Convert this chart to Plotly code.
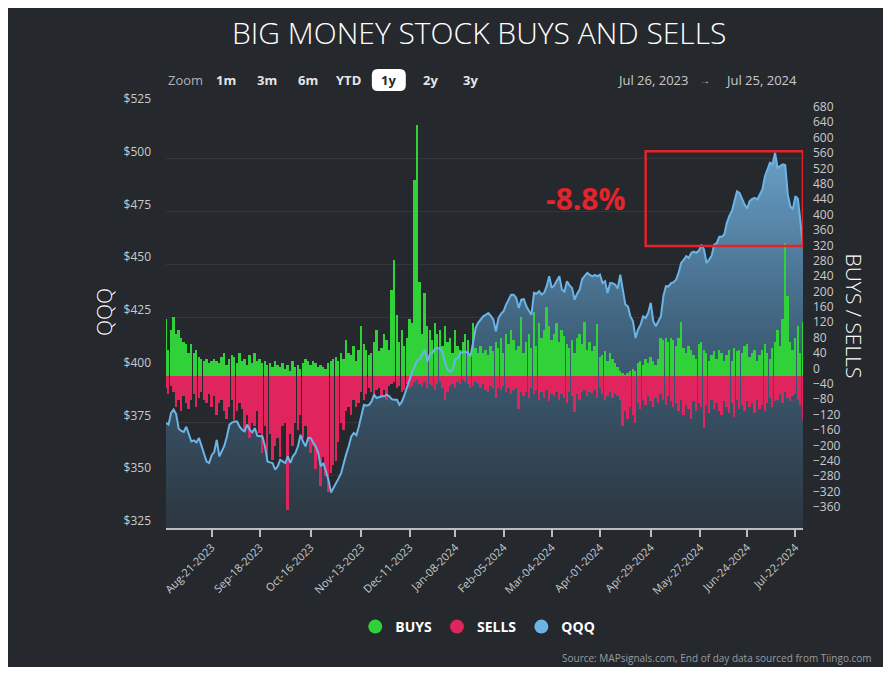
import plotly.graph_objects as go
import pandas as pd

# ---------------- data ----------------
START = "2023-07-26"
END = "2024-07-25"
HOLIDAYS = ["2023-09-04", "2023-11-23", "2023-12-25", "2024-01-01", "2024-01-15",
            "2024-02-19", "2024-03-29", "2024-05-27", "2024-06-19", "2024-07-04"]
DATES = [d for d in pd.bdate_range(START, END) if d.strftime("%Y-%m-%d") not in HOLIDAYS]

QQQ = [
    374.8, 374.0, 379.5, 381.1, 379.0, 372.0, 371.0, 370.5, 373.0, 369.5,
    366.0, 366.5, 365.5, 367.6, 363.7, 359.5, 356.5, 355.8, 359.5, 361.0,
    366.8, 358.9, 361.3, 364.0, 368.4, 374.0, 375.0, 375.5, 375.5, 373.0,
    371.5, 370.8, 374.0, 371.5, 370.3, 372.4, 368.7, 368.5, 368.4, 363.7,
    356.5, 356.1, 355.8, 352.6, 354.2, 357.3, 356.5, 355.8, 358.9, 355.8,
    359.0, 360.5, 363.7, 369.2, 366.0, 363.7, 367.6, 367.6, 365.5, 363.7,
    360.5, 354.2, 355.8, 352.0, 347.9, 341.8, 343.9, 346.3, 348.5, 351.0,
    355.8, 360.0, 363.7, 368.4, 370.0, 369.0, 373.2, 377.9, 383.4, 383.0,
    383.4, 385.0, 388.2, 386.6, 387.0, 387.4, 387.4, 388.2, 387.4, 386.0,
    385.8, 385.8, 383.4, 385.0, 388.2, 392.1, 395.3, 399.0, 401.6, 404.5,
    405.0, 407.5, 409.5, 404.0, 407.5, 408.0, 410.0, 410.3, 410.0, 408.5,
    403.0, 400.0, 399.0, 400.0, 405.0, 405.5, 408.0, 408.5, 408.5, 408.0,
    406.4, 413.0, 419.8, 422.2, 423.5, 425.3, 426.0, 426.9, 425.5, 423.7,
    418.2, 424.5, 426.5, 427.7, 430.9, 433.0, 435.6, 435.6, 434.0, 429.3,
    433.2, 433.5, 430.1, 428.0, 426.1, 436.4, 436.0, 437.2, 435.6, 436.5,
    439.6, 444.3, 438.8, 440.0, 441.9, 444.3, 438.0, 437.0, 441.9, 440.0,
    438.8, 433.2, 436.0, 438.0, 443.0, 444.3, 445.9, 445.0, 444.3, 445.0,
    444.3, 445.1, 441.1, 442.0, 436.4, 441.1, 441.0, 440.3, 438.5, 445.1,
    438.0, 430.9, 430.0, 425.3, 423.0, 415.1, 419.0, 421.4, 425.3, 424.5,
    426.9, 431.7, 423.0, 420.6, 423.0, 425.3, 435.0, 439.6, 439.5, 441.1,
    441.5, 442.7, 446.0, 450.6, 452.1, 453.8, 453.0, 455.4, 456.0, 455.4,
    456.5, 459.3, 457.0, 450.6, 452.2, 454.0, 459.3, 460.0, 463.0, 463.0,
    464.1, 469.6, 473.0, 475.2, 480.0, 484.6, 483.8, 481.0, 478.3, 476.5,
    479.9, 481.0, 481.5, 480.7, 483.0, 485.4, 491.7, 495.0, 498.1, 497.5,
    502.8, 495.7, 496.5, 497.3, 497.0, 483.0, 477.5, 476.0, 482.2, 481.0,
    470.0, 458.7,
]

BUYS = [
    150, 70, 120, 155, 110, 120, 100, 90, 85, 60,
    85, 60, 70, 50, 45, 40, 45, 35, 40, 45,
    40, 35, 50, 60, 30, 45, 55, 50, 35, 60,
    40, 45, 30, 55, 35, 60, 40, 45, 35, 40,
    30, 35, 25, 40, 30, 25, 35, 20, 30, 15,
    40, 25, 30, 20, 35, 45, 40, 30, 40, 35,
    25, 30, 25, 20, 35, 40, 45, 50, 40, 60,
    45, 95, 60, 55, 80, 40, 70, 130, 85, 70,
    55, 60, 90, 120, 65, 75, 110, 95, 70, 225,
    303, 160, 90, 120, 80, 100, 150, 140, 511, 654,
    246, 110, 218, 130, 120, 95, 140, 110, 120, 80,
    130, 90, 100, 60, 120, 80, 70, 90, 110, 95,
    60, 140, 75, 60, 80, 60, 70, 55, 80, 65,
    90, 75, 100, 60, 110, 85, 120, 95, 70, 80,
    154, 60, 90, 110, 75, 167, 80, 140, 100, 120,
    180, 130, 95, 110, 140, 90, 120, 105, 85, 75,
    95, 60, 100, 110, 85, 141, 70, 90, 65, 80,
    136, 50, 55, 65, 40, 60, 45, 35, 25, 15,
    10, 5, 10, 15, 20, 15, 35, 40, 30, 45,
    35, 50, 40, 30, 45, 100, 95, 100, 90, 100,
    95, 80, 100, 141, 75, 60, 80, 70, 55, 45,
    85, 90, 70, 60, 40, 55, 65, 45, 70, 60,
    40, 55, 70, 40, 75, 65, 70, 60, 80, 85,
    50, 60, 70, 40, 55, 70, 85, 60, 45, 75,
    90, 120, 80, 150, 348, 210, 90, 70, 100, 130,
    60, 141,
]

SELLS = [
    30, 45, 25, 40, 80, 60, 90, 50, 70, 85,
    60, 45, 80, 55, 40, 60, 70, 45, 80, 50,
    100, 70, 60, 90, 110, 80, 60, 113, 90, 70,
    85, 140, 100, 160, 120, 130, 90, 148, 200, 130,
    217, 150, 217, 180, 160, 210, 130, 120, 347, 150,
    180, 120, 140, 100, 160, 130, 170, 200, 180, 240,
    200, 286, 210, 260, 300, 250, 230, 220, 170, 120,
    140, 90, 80, 100, 60, 80, 70, 40, 60, 45,
    30, 40, 55, 35, 30, 50, 35, 60, 25, 20,
    15, 30, 25, 40, 35, 20, 30, 25, 15, 10,
    20, 25, 15, 30, 20, 25, 35, 20, 15, 30,
    60, 40, 25, 20, 30, 15, 20, 10, 15, 20,
    30, 25, 15, 20, 30, 20, 35, 40, 25, 30,
    55, 30, 35, 25, 40, 30, 45, 35, 30, 85,
    40, 50, 40, 55, 30, 45, 35, 60, 40, 55,
    35, 65, 45, 50, 40, 60, 45, 55, 70, 40,
    50, 93, 45, 60, 40, 35, 50, 40, 45, 35,
    55, 30, 45, 60, 50, 40, 55, 45, 50, 60,
    128, 90, 110, 80, 100, 120, 70, 85, 60, 75,
    50, 65, 80, 55, 70, 45, 60, 75, 50, 65,
    80, 70, 90, 60, 100, 75, 85, 110, 65, 90,
    70, 80, 133, 75, 95, 60, 85, 70, 90, 100,
    65, 80, 95, 70, 105, 60, 85, 75, 90, 65,
    80, 70, 95, 60, 85, 75, 90, 70, 55, 80,
    65, 60, 45, 70, 40, 55, 65, 50, 45, 60,
    75, 110,
]

TICK_DATES = ["2023-08-21", "2023-09-18", "2023-10-16", "2023-11-13", "2023-12-11",
              "2024-01-08", "2024-02-05", "2024-03-04", "2024-04-01", "2024-04-29",
              "2024-05-27", "2024-06-24", "2024-07-22"]
LEFT_TICKS = [325, 350, 375, 400, 425, 450, 475, 500, 525]
RIGHT_TICKS = list(range(-360, 681, 40))
ZOOM_BUTTONS = ["1m", "3m", "6m", "YTD", "1y", "2y", "3y"]
BOX_START = "2024-04-25"

# ---------------- style ----------------
BG = "#25282d"
GREEN = "#31d13a"
RED = "#e0245e"
BLUE = "#6cb4e6"
BOX_RED = "#e3242b"
FONT = "Open Sans"

# the page body adds an 8px white margin; that margin acts as the white frame
OFF = 8
W, H = 875, 659
# plot area in screen pixels
L, R, T, B = 166, 803.5, 106, 528


def px(xp):
    return (xp - L) / (R - L)


def py(yp):
    return (B - yp) / (B - T)


date_str = [d.strftime("%Y-%m-%d") for d in DATES]
X = list(range(len(DATES)))


def pos_of(ds):
    if ds in date_str:
        return date_str.index(ds)
    nxt = next(i for i, d in enumerate(date_str) if d > ds)
    return nxt - 0.5


tickpos = [pos_of(d) for d in TICK_DATES]
ticktext = [pd.Timestamp(d).strftime("%b-%d-%Y") for d in TICK_DATES]

fig = go.Figure()

# QQQ area (base axis)
fig.add_trace(go.Scatter(
    x=X, y=QQQ, mode="none", fill="tozeroy",
    fillgradient=dict(type="vertical", start=325, stop=505,
                      colorscale=[[0, "rgb(44,54,63)"], [0.5, "rgb(62,96,122)"],
                                  [1, "rgb(104,160,200)"]]),
    yaxis="y", showlegend=False, hoverinfo="skip"))

# Buys / sells bars
fig.add_trace(go.Bar(x=X, y=BUYS, marker=dict(color=GREEN, line=dict(width=0)),
                     width=0.72, yaxis="y2", showlegend=False))
fig.add_trace(go.Bar(x=X, y=[-v for v in SELLS], marker=dict(color=RED, line=dict(width=0)),
                     width=0.72, yaxis="y2", showlegend=False))

# QQQ line on top
fig.add_trace(go.Scatter(x=X, y=QQQ, mode="lines", line=dict(color=BLUE, width=2),
                         yaxis="y3", showlegend=False))

# legend entries
for name, col in [("BUYS", GREEN), ("SELLS", RED), ("QQQ", BLUE)]:
    fig.add_trace(go.Scatter(x=[None], y=[None], mode="markers", name=name,
                             marker=dict(color=col, size=14, symbol="circle"),
                             yaxis="y3", showlegend=True))

tick_font = dict(family=FONT, size=12, color="#c9cacc")

fig.update_layout(
    width=W, height=H,
    margin=dict(l=L - OFF, r=W - (R - OFF), t=T - OFF, b=H - (B - OFF), pad=0,
                autoexpand=False),
    paper_bgcolor=BG, plot_bgcolor=BG,
    barmode="relative", bargap=0,
    hovermode=False,
    showlegend=True,
    legend=dict(orientation="h", x=px(478), xanchor="center", y=py(627), yanchor="middle",
                font=dict(family=FONT, size=14, color="white", weight=700),
                bgcolor="rgba(0,0,0,0)", itemsizing="trace", traceorder="normal"),
    xaxis=dict(range=[0, len(X) - 1], showgrid=False, zeroline=False, automargin=False,
               showline=True, linecolor="#b8bcc4", linewidth=1.5,
               ticks="outside", ticklen=7, tickcolor="#b8bcc4", tickwidth=1.5,
               tickvals=tickpos, ticktext=ticktext, tickangle=-45,
               tickfont=dict(family=FONT, size=11, color="#c9cacc")),
    yaxis=dict(range=[325, 525], tickvals=LEFT_TICKS, ticktext=[f"${v}" for v in LEFT_TICKS],
               showgrid=True, gridcolor="#33373c", gridwidth=1, zeroline=False,
               showline=False, ticks="", tickfont=tick_font, automargin=False,
               ticklabelstandoff=14, ticklabelshift=-7),
    yaxis2=dict(range=[-394, 703], overlaying="y", side="right", tickvals=RIGHT_TICKS,
                showgrid=False, zeroline=False, showline=False, ticks="", automargin=False,
                tickfont=tick_font, ticklabelstandoff=9, ticklabelshift=-8),
    yaxis3=dict(range=[325, 525], overlaying="y", visible=False, automargin=False),
)

shapes = []
# 1y selected button (rounded)
x0, x1, y0, y1 = px(372), px(406), py(91), py(69)
rx, ry = 6 / (R - L), 6 / (B - T)
path = (f"M {x0+rx},{y0} L {x1-rx},{y0} Q {x1},{y0} {x1},{y0+ry} L {x1},{y1-ry} "
        f"Q {x1},{y1} {x1-rx},{y1} L {x0+rx},{y1} Q {x0},{y1} {x0},{y1-ry} "
        f"L {x0},{y0+ry} Q {x0},{y0} {x0+rx},{y0} Z")
shapes.append(dict(type="path", xref="paper", yref="paper", path=path,
                   fillcolor="white", line=dict(width=0)))
# red box: from box start to last date, peak to last close
peak = max(QQQ)
shapes.append(dict(type="rect", xref="x", yref="y", x0=pos_of(BOX_START), x1=len(X) - 1,
                   y0=QQQ[-1], y1=peak + 0.8, line=dict(color=BOX_RED, width=2.5),
                   fillcolor="rgba(0,0,0,0)", layer="above"))
fig.update_layout(shapes=shapes)

ann = []
ann.append(dict(text="BIG MONEY STOCK BUYS AND SELLS", x=px(479), y=py(32),
                font=dict(family=FONT, size=30, color="white", weight=300)))
ann.append(dict(text="Zoom", x=px(166), y=py(80), xanchor="left",
                font=dict(family=FONT, size=13, color="#b0b2b6")))
btn_x = [226, 267.5, 308.5, 348.5, 389, 430.5, 471]
for lab, bx in zip(ZOOM_BUTTONS, btn_x):
    ann.append(dict(text=lab, x=px(bx), y=py(80),
                    font=dict(family=FONT, size=13, weight=700,
                              color="#25282d" if lab == "1y" else "#e4e5e7")))
ann.append(dict(text=DATES[0].strftime("%b %d, %Y"), x=px(652.5), y=py(80),
                font=dict(family=FONT, size=13, color="#c9cacc")))
ann.append(dict(text="→", x=px(705), y=py(80), font=dict(family=FONT, size=10, color="#c9cacc")))
ann.append(dict(text=DATES[-1].strftime("%b %d, %Y"), x=px(761.5), y=py(80),
                font=dict(family=FONT, size=13, color="#c9cacc")))
ann.append(dict(text="QQQ", x=px(104), y=py(312), textangle=-90,
                font=dict(family=FONT, size=21, color="white", weight=300)))
ann.append(dict(text="BUYS / SELLS", x=px(855), y=py(316), textangle=90,
                font=dict(family=FONT, size=21, color="white", weight=300)))
pct = (QQQ[-1] / peak - 1) * 100
ann.append(dict(text=f"{pct:.1f}%", x=px(586), y=py(198),
                font=dict(family=FONT, size=30, color=BOX_RED, weight=700)))
ann.append(dict(text="Source: MAPsignals.com, End of day data sourced from Tiingo.com",
                x=px(875), y=py(658), xanchor="right",
                font=dict(family=FONT, size=10, color="#9a9ca0")))
for a in ann:
    a.setdefault("xref", "paper")
    a.setdefault("yref", "paper")
    a.setdefault("showarrow", False)
    a.setdefault("xanchor", "center")
    a.setdefault("yanchor", "middle")
fig.update_layout(annotations=ann)

fig.write_html("out.html")
